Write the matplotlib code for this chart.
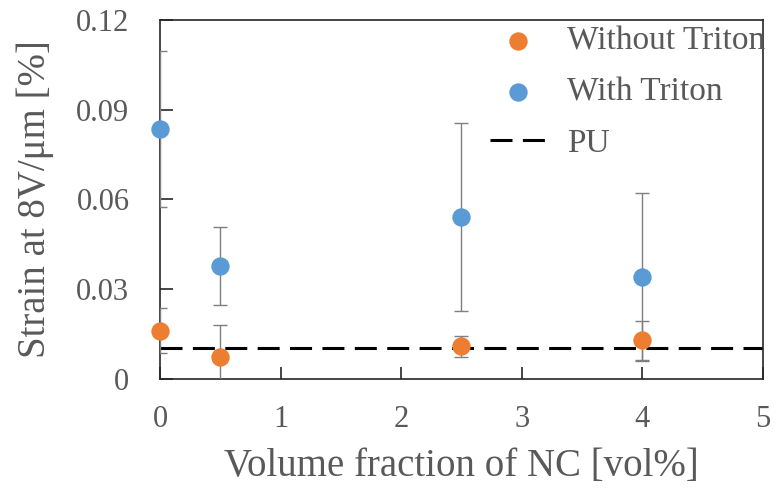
import numpy as np
import matplotlib
matplotlib.use("Agg")
import matplotlib.pyplot as plt

# data
vol_frac = [0, 0.5, 2.5, 4]
without_triton = [0.0162, 0.0073, 0.0110, 0.0130]
without_err = [0.0075, 0.0107, 0.0035, 0.0065]
with_triton = [0.0835, 0.0378, 0.0541, 0.0341]
with_err = [0.0260, 0.0130, 0.0315, 0.0280]
pu_strain = 0.0105

y_ticks = [0, 0.03, 0.06, 0.09, 0.12]
y_labels = ["0", "0.03", "0.06", "0.09", "0.12"]
x_ticks = [0, 1, 2, 3, 4, 5]

orange = "#ED7D31"
blue = "#5B9BD5"
grey = "#595959"

plt.rcParams["font.family"] = ["Liberation Serif", "DejaVu Serif"]

fig = plt.figure(figsize=(7.74, 4.91), dpi=100)
ax = fig.add_axes([0.2067, 0.2281, 0.7791, 0.7312])

pu_line, = ax.plot([0, 5], [pu_strain, pu_strain], color="black", lw=2.2,
                   ls=(0, (7.2, 3.4)), label="PU", zorder=2)

ax.errorbar(vol_frac, without_triton, yerr=without_err, fmt="none",
            ecolor="#7f7f7f", elinewidth=1.0, capsize=5, capthick=1.0, zorder=3)
ax.errorbar(vol_frac, with_triton, yerr=with_err, fmt="none",
            ecolor="#7f7f7f", elinewidth=1.0, capsize=5, capthick=1.0, zorder=3)

p1 = ax.scatter(vol_frac, without_triton, s=175, color=orange, zorder=4,
                label="Without Triton", clip_on=False, linewidths=0)
p2 = ax.scatter(vol_frac, with_triton, s=175, color=blue, zorder=4,
                label="With Triton", clip_on=False, linewidths=0)

ax.set_xlim(0, 5)
ax.set_ylim(0, 0.12)
ax.set_xticks(x_ticks)
ax.set_yticks(y_ticks)
ax.set_yticklabels(y_labels)

ax.tick_params(direction="in", length=9, width=1.2, colors="#262626",
               labelcolor=grey, labelsize=22)
ax.tick_params(axis="y", pad=22)
ax.tick_params(axis="x", pad=19)

for sp in ax.spines.values():
    sp.set_color("#262626")
    sp.set_linewidth(1.2)

ax.set_xlabel("Volume fraction of NC [vol%]", fontsize=28, color=grey, labelpad=10)
ax.set_ylabel("Strain at 8V/μm [%]", fontsize=28, color=grey, labelpad=16)

leg = ax.legend(handles=[p1, p2, pu_line], loc="upper left",
                bbox_to_anchor=(490 / 774, 1 - 26 / 491), bbox_transform=fig.transFigure,
                frameon=False, fontsize=24, handlelength=1.7, handletextpad=0.6,
                labelspacing=0.62, borderaxespad=0, borderpad=0)
for t in leg.get_texts():
    t.set_color(grey)

fig.savefig("out.png", dpi=100)
